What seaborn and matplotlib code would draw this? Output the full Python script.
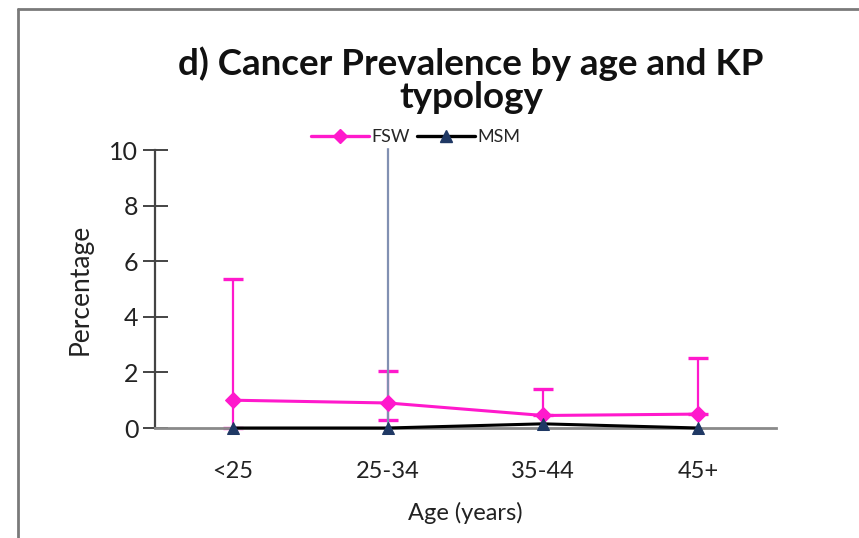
import matplotlib
matplotlib.use("Agg")
import matplotlib.pyplot as plt
from matplotlib.lines import Line2D
import seaborn as sns
import pandas as pd
import numpy as np

# Cancer prevalence (%) by age group and key-population typology
age_groups = ["<25", "25-34", "35-44", "45+"]
fsw_values = [1.0, 0.9, 0.45, 0.5]
fsw_lower = [0.0, 0.3, 0.45, 0.5]      # lower confidence limit
fsw_upper = [5.35, 2.05, 1.42, 2.52]   # upper confidence limit
msm_values = [0.0, 0.0, 0.15, 0.0]
msm_lower = [0.0, 0.0, 0.15, 0.0]
msm_upper = [0.0, 10.2, 0.15, 0.0]

y_ticks = [0, 2, 4, 6, 8, 10]

FSW_COLOR = "#FF19CC"
MSM_LINE = "#000000"
MSM_MARK = "#1F3864"
MSM_ERR = "#8190B2"

sns.set_theme(style="white")
plt.rcParams["font.family"] = ["Lato", "DejaVu Sans"]

df = pd.DataFrame({
    "age": age_groups * 2,
    "pct": fsw_values + msm_values,
    "group": ["FSW"] * 4 + ["MSM"] * 4,
})
df["x"] = np.tile(np.arange(len(age_groups)), 2)

fig = plt.figure(figsize=(8.59, 5.38), dpi=100)
ax = fig.add_axes([155 / 859, 110 / 538, 621 / 859, 278 / 538])

# error bars (drawn first so the markers sit on top)
xs = np.arange(len(age_groups))
fv, fl, fu = map(np.array, (fsw_values, fsw_lower, fsw_upper))
mv, ml, mu = map(np.array, (msm_values, msm_lower, msm_upper))
ax.errorbar(xs, fv, yerr=[fv - fl, fu - fv], fmt="none", ecolor=FSW_COLOR,
            elinewidth=1.6, capsize=7, capthick=2.4, zorder=2, clip_on=False)
ax.errorbar(xs, mv, yerr=[mv - ml, mu - mv], fmt="none", ecolor=MSM_ERR,
            elinewidth=1.6, capsize=0, zorder=2, clip_on=False)

sns.lineplot(data=df[df.group == "MSM"], x="x", y="pct", ax=ax, color=MSM_LINE,
             lw=2.2, marker="^", markersize=9, markerfacecolor=MSM_MARK,
             markeredgecolor=MSM_MARK, zorder=3, legend=False, clip_on=False)
sns.lineplot(data=df[df.group == "FSW"], x="x", y="pct", ax=ax, color=FSW_COLOR,
             lw=2.2, marker="D", markersize=8, markerfacecolor=FSW_COLOR,
             markeredgecolor=FSW_COLOR, zorder=4, legend=False, clip_on=False)
# keep the triangles above the pink line
for ln in ax.lines:
    if ln.get_marker() == "^":
        ln.set_zorder(5)

ax.set_xlim(-0.5, 3.5)
ax.set_ylim(0, 10)
ax.set_xticks(xs)
ax.set_xticklabels(age_groups)
ax.set_yticks(y_ticks)
ax.set_yticklabels([str(t) for t in y_ticks])

for side in ("top", "right"):
    ax.spines[side].set_visible(False)
ax.spines["left"].set_color("#444444")
ax.spines["left"].set_linewidth(1.6)
ax.spines["bottom"].set_color("#8a8a8a")
ax.spines["bottom"].set_linewidth(2.0)

ax.tick_params(axis="y", which="major", direction="inout", length=18, width=1.4,
               color="#444444", labelsize=18, pad=3, left=True)
ax.tick_params(axis="x", which="major", length=0, labelsize=17, pad=24)
for lbl in ax.get_yticklabels() + ax.get_xticklabels():
    lbl.set_color("#222222")

ax.set_xlabel("Age (years)", fontsize=17, labelpad=14, color="#222222")
ax.set_ylabel("Percentage", fontsize=19, labelpad=12, color="#222222")

fig.text(471 / 859, 1 - 80 / 538, "d) Cancer Prevalence by age and KP\ntypology",
         ha="center", va="center", fontsize=26.5, fontweight="bold",
         linespacing=1.0, color="#111111")

handles = [
    Line2D([], [], color=FSW_COLOR, lw=2.4, marker="D", markersize=7,
           markerfacecolor=FSW_COLOR, markeredgecolor=FSW_COLOR),
    Line2D([], [], color=MSM_LINE, lw=2.4, marker="^", markersize=8,
           markerfacecolor=MSM_MARK, markeredgecolor=MSM_MARK),
]
leg = fig.legend(handles, ["FSW", "MSM"], loc="center",
                 bbox_to_anchor=(416 / 859, 1 - 137 / 538), ncol=2, frameon=True,
                 facecolor="white", edgecolor="white", framealpha=1,
                 fontsize=13, handlelength=3.2, handletextpad=0.15,
                 columnspacing=0.4, borderpad=0.1)
leg.set_zorder(10)

# outer frame of the panel
fig.add_artist(Line2D([18 / 859, 18 / 859], [0, 1 - 9 / 538], color="#7a7a7a",
                      lw=2.0, transform=fig.transFigure))
fig.add_artist(Line2D([18 / 859, 1], [1 - 9 / 538, 1 - 9 / 538], color="#7a7a7a",
                      lw=2.0, transform=fig.transFigure))

fig.savefig("out.png", dpi=100)
